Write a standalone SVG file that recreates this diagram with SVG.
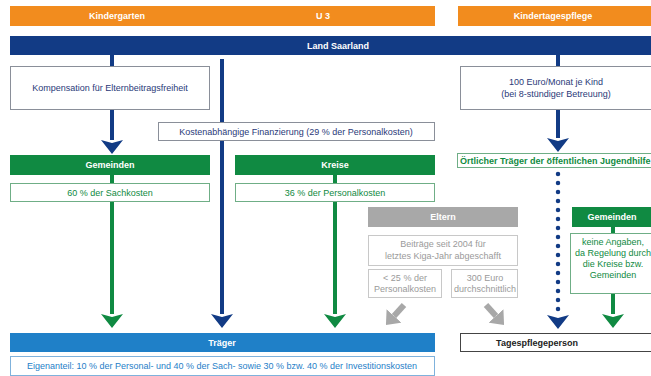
<svg xmlns="http://www.w3.org/2000/svg" width="651" height="376" viewBox="0 0 651 376">
<defs>
<style>
text{font-family:"Liberation Sans",Arial,sans-serif;font-size:9px;text-anchor:middle}
.hd{fill:#fff;font-weight:bold;font-size:9px}
.orange{fill:#f28c1e}
.navy{fill:#123b85}
.green{fill:#108a42}
.gray{fill:#a8a8a8}
.tblue{fill:#1f80c8}
.box{fill:#fff;stroke:#8a8f99;stroke-width:1}
.gbox{fill:#fff;stroke:#6fae86;stroke-width:1}
.grbox{fill:#fff;stroke:#c8c8c8;stroke-width:1}
.bbox{fill:#fff;stroke:#7fb2dc;stroke-width:1}
.kbox{fill:#fff;stroke:#444;stroke-width:1}
.tn{fill:#2a3a78}
.tg{fill:#108a42}
.tgr{fill:#9a9a9a}
.tb{fill:#1f80c8}
.ln{fill:none;stroke-width:4}
.lnav{stroke:#123b85}
.lgrn{stroke:#108a42}
.lgry{stroke:#a8a8a8;stroke-width:6}
</style>
<marker id="aNavy" viewBox="0 0 14 22" markerWidth="14" markerHeight="22" refX="0" refY="11" orient="auto" markerUnits="userSpaceOnUse"><path d="M0,0 L14,11 L0,22 L3,11 z" fill="#123b85"/></marker>
<marker id="aGreen" viewBox="0 0 14 22" markerWidth="14" markerHeight="22" refX="0" refY="11" orient="auto" markerUnits="userSpaceOnUse"><path d="M0,0 L14,11 L0,22 L3,11 z" fill="#108a42"/></marker>
<marker id="aGray" viewBox="0 0 12 20" markerWidth="12" markerHeight="20" refX="0" refY="10" orient="auto" markerUnits="userSpaceOnUse"><path d="M0,0 L12,10 L0,20 z" fill="#a8a8a8"/></marker>
</defs>
<rect width="651" height="376" fill="#fff"/>

<g id="connectors">
<line class="ln lnav" x1="112" y1="55" x2="112" y2="66"/>
<line class="ln lnav" x1="112" y1="110" x2="112" y2="140" marker-end="url(#aNavy)"/>
<line class="ln lnav" x1="222" y1="59" x2="222" y2="314" marker-end="url(#aNavy)"/>
<line class="ln lgrn" x1="112" y1="175" x2="112" y2="314" marker-end="url(#aGreen)"/>
<line class="ln lgrn" x1="335" y1="175" x2="335" y2="314" marker-end="url(#aGreen)"/>
<line class="ln lnav" x1="558" y1="55" x2="558" y2="66"/>
<line class="ln lnav" x1="558" y1="110" x2="558" y2="138" marker-end="url(#aNavy)"/>
<line fill="none" stroke="#123b85" stroke-width="4.5" stroke-linecap="round" stroke-dasharray="0 9" x1="558" y1="174" x2="558" y2="310"/>
<line stroke="none" x1="558" y1="310" x2="558" y2="315" marker-end="url(#aNavy)"/>
<line class="ln lgrn" x1="613" y1="227" x2="613" y2="233"/>
<line class="ln lgrn" x1="613" y1="293" x2="613" y2="314" marker-end="url(#aGreen)"/>
<line class="ln lgry" x1="404" y1="305" x2="394" y2="316" marker-end="url(#aGray)"/>
<line class="ln lgry" x1="486" y1="305" x2="496" y2="316" marker-end="url(#aGray)"/>
</g>

<g id="kindergarten-u3">
<rect class="orange" x="10" y="6" width="425" height="20"/>
<text class="hd" x="117" y="19">Kindergarten</text>
<text class="hd" x="323" y="19">U 3</text>
</g>
<g id="kindertagespflege">
<rect class="orange" x="458" y="6" width="193" height="20"/>
<text class="hd" x="553" y="19">Kindertagespflege</text>
</g>
<g id="land-saarland">
<rect class="navy" x="10" y="36" width="641" height="19"/>
<text class="hd" x="338" y="49">Land Saarland</text>
</g>
<g id="kompensation">
<rect class="box" x="10.5" y="66.5" width="199" height="43"/>
<text class="tn" x="110" y="91">Kompensation für Elternbeitragsfreiheit</text>
</g>
<g id="kostenabhaengig">
<rect class="box" x="158.5" y="122.5" width="276" height="18"/>
<text class="tn" x="296" y="134.5">Kostenabhängige Finanzierung (29 % der Personalkosten)</text>
</g>
<g id="gemeinden">
<rect class="green" x="10" y="155" width="200" height="20"/>
<text class="hd" x="110" y="168">Gemeinden</text>
<rect class="gbox" x="10.5" y="183.5" width="199" height="18"/>
<text class="tg" x="110" y="195.5">60 % der Sachkosten</text>
</g>
<g id="kreise">
<rect class="green" x="235" y="155" width="200" height="20"/>
<text class="hd" x="335" y="168">Kreise</text>
<rect class="gbox" x="235.5" y="183.5" width="199" height="18"/>
<text class="tg" x="335" y="195.5">36 % der Personalkosten</text>
</g>
<g id="eltern">
<rect class="gray" x="368" y="207" width="150" height="20"/>
<text class="hd" x="443" y="220">Eltern</text>
<rect class="grbox" x="368.5" y="235.5" width="149" height="30"/>
<text class="tgr" x="443" y="247">Beiträge seit 2004 für</text>
<text class="tgr" x="443" y="259">letztes Kiga-Jahr abgeschafft</text>
<rect class="grbox" x="368.5" y="269.5" width="73" height="28"/>
<text class="tgr" x="405" y="281">&lt; 25 % der</text>
<text class="tgr" x="405" y="292">Personalkosten</text>
<rect class="grbox" x="451.5" y="269.5" width="66" height="28"/>
<text class="tgr" x="485" y="281">300 Euro</text>
<text class="tgr" x="485" y="292">durchschnittlich</text>
</g>
<g id="traeger">
<rect class="tblue" x="10" y="333" width="425" height="19"/>
<text class="hd" x="222" y="346">Träger</text>
<rect class="bbox" x="10.5" y="356.5" width="424" height="19"/>
<text class="tb" x="222" y="369">Eigenanteil: 10 % der Personal- und 40 % der Sach- sowie 30 % bzw. 40 % der Investitionskosten</text>
</g>
<g id="hundert-euro">
<rect class="box" x="460.5" y="66.5" width="195" height="43"/>
<text class="tn" x="556" y="85">100 Euro/Monat je Kind</text>
<text class="tn" x="556" y="97">(bei 8-stündiger Betreuung)</text>
</g>
<g id="oertlicher-traeger">
<rect class="gbox" x="457.5" y="153.5" width="198" height="14"/>
<text class="tg" x="460" y="163.5" style="text-anchor:start;font-weight:bold">Örtlicher Träger der öffentlichen Jugendhilfe</text>
</g>
<g id="gemeinden-rechts">
<rect class="green" x="572" y="207" width="84" height="20"/>
<text class="hd" x="612" y="220">Gemeinden</text>
<rect class="gbox" x="570.5" y="233.5" width="85" height="60"/>
<text class="tg" x="613" y="245">keine Angaben,</text>
<text class="tg" x="613" y="256">da Regelung durch</text>
<text class="tg" x="613" y="267">die Kreise bzw.</text>
<text class="tg" x="613" y="278">Gemeinden</text>
</g>
<g id="tagespflegeperson">
<rect class="kbox" x="460.5" y="333.5" width="195" height="18"/>
<text x="537" y="345.5" style="font-weight:bold;fill:#222">Tagespflegeperson</text>
</g>
</svg>
